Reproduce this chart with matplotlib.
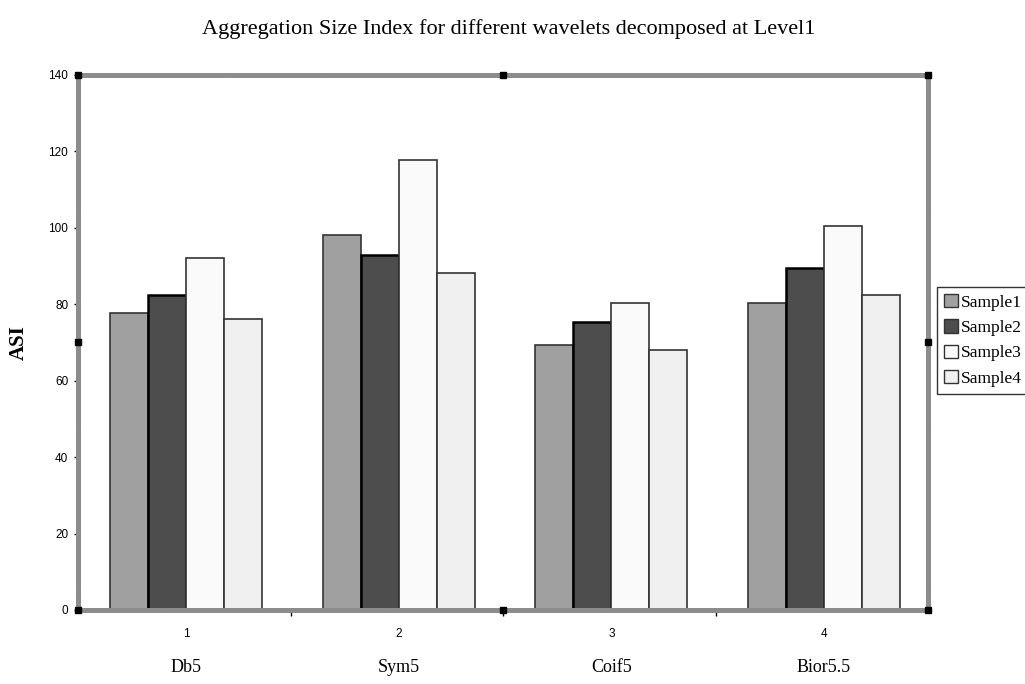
import matplotlib
matplotlib.use("Agg")
import matplotlib.pyplot as plt
import numpy as np

wavelets = ["Db5", "Sym5", "Coif5", "Bior5.5"]
positions = ["1", "2", "3", "4"]
samples = ["Sample1", "Sample2", "Sample3", "Sample4"]

sample1 = [77.8, 98.0, 69.4, 80.3]
sample2 = [82.5, 93.0, 75.3, 89.6]
sample3 = [92.2, 117.8, 80.3, 100.6]
sample4 = [76.2, 88.3, 68.1, 82.5]

colors = ["#a0a0a0", "#4d4d4d", "#fafafa", "#f0f0f0"]
edges = ["#333333", "#000000", "#333333", "#333333"]
edge_w = [1.2, 1.8, 1.2, 1.2]

fig = plt.figure(figsize=(10.25, 6.84), dpi=100)
ax = fig.add_axes([0.0761, 0.1082, 0.8293, 0.7822])

x = np.arange(len(wavelets)) + 0.5
w = 0.179
series = [sample1, sample2, sample3, sample4]
for i, vals in enumerate(series):
    ax.bar(x + (i - 1.5) * w + 0.01, vals, w, color=colors[i], edgecolor=edges[i],
           linewidth=edge_w[i], label=samples[i], zorder=2)

ax.set_xlim(0, 4)
ax.set_ylim(0, 140)

# frame drawn as a grey dotted selection border
for s in ax.spines.values():
    s.set_color("#8c8c8c")
    s.set_linewidth(3.5)
    s.set_linestyle((0, (0.5, 0.35)))
for (hx, hy) in [(0, 0), (0, 0.5), (0, 1), (0.5, 0), (0.5, 1), (1, 0), (1, 0.5), (1, 1)]:
    ax.plot(hx, hy, marker="s", ms=5, mfc="black", mec="black", mew=1,
            transform=ax.transAxes, clip_on=False, zorder=5)

ax.set_yticks(range(0, 141, 20))
ax.tick_params(axis="y", direction="out", length=3, width=1, labelsize=8.5, pad=4)
for lab in ax.get_yticklabels():
    lab.set_fontfamily("Liberation Sans")

# category boundaries get tick marks, centres get the labels
ax.set_xticks([1, 2, 3])
ax.set_xticklabels([])
ax.tick_params(axis="x", direction="out", length=4, width=1)
for xi, p, name in zip(x, positions, wavelets):
    ax.text(xi + 0.01, -0.045, p, transform=ax.get_xaxis_transform(), ha="center", va="center",
            fontsize=8.5, family="Liberation Sans")
    ax.text(xi + 0.01, -0.107, name, transform=ax.get_xaxis_transform(), ha="center", va="center",
            fontsize=13, family="Liberation Serif")

ax.set_ylabel("ASI", fontsize=15, fontweight="bold", family="Liberation Serif", labelpad=14)
fig.text(0.496, 1 - 29 / 684, "Aggregation Size Index for different wavelets decomposed at Level1",
         ha="center", va="center", fontsize=16, family="Liberation Serif")

leg = fig.legend(loc="upper left", bbox_to_anchor=(937 / 1025, 1 - 287 / 684),
                 prop={"family": "Liberation Serif", "size": 12.5}, frameon=True,
                 fancybox=False, edgecolor="black", handlelength=0.8, handleheight=0.8,
                 handletextpad=0.15, borderpad=0.4, labelspacing=0.5, borderaxespad=0)
leg.get_frame().set_linewidth(1)
for h in leg.legend_handles:
    h.set_linewidth(1)
    h.set_edgecolor("#333333")

fig.savefig("out.png", dpi=100)
